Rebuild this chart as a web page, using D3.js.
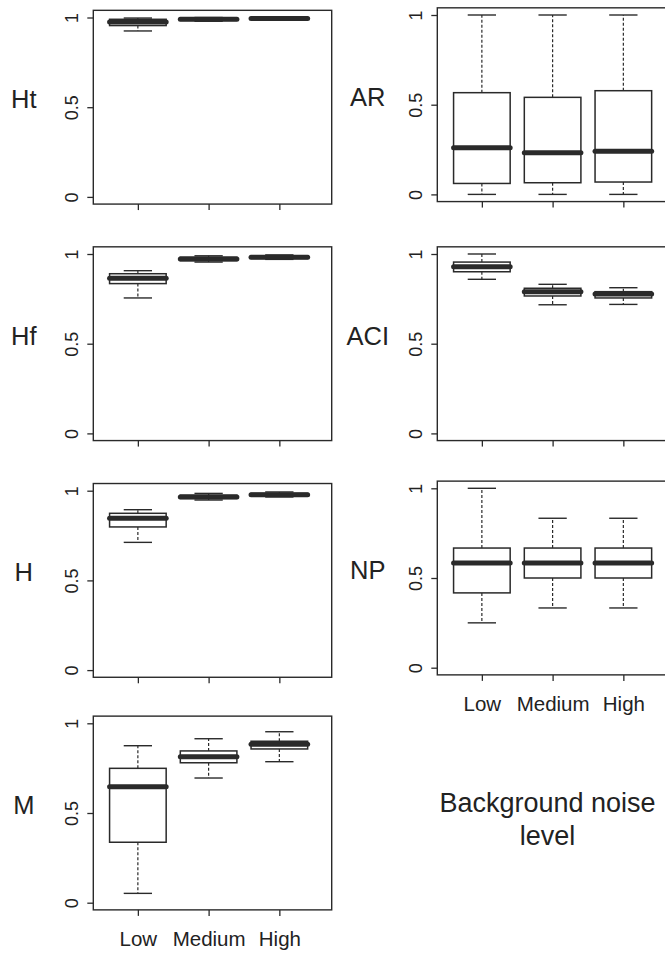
<!DOCTYPE html>
<html>
<head>
<meta charset="utf-8">
<script src="https://cdn.jsdelivr.net/npm/d3@7"></script>
<style>
  body { margin: 0; background: #fff; }
  svg { display: block; }
  text { font-family: "Liberation Sans", Arial, Helvetica, sans-serif; fill: #222; }
</style>
</head>
<body>
<div id="app"></div>
<script>
"use strict";

// noise levels and y ticks
const levels = ["Low", "Medium", "High"];
const yTicks = [0, 0.5, 1];

// each row: [lower whisker, Q1, median, Q3, upper whisker] for Low, Medium, High
const htStats = [
  [0.925, 0.955, 0.975, 0.990, 0.997],
  [0.979, 0.984, 0.990, 0.994, 1.000],
  [0.985, 0.990, 0.995, 0.998, 1.000]
];
const hfStats = [
  [0.755, 0.835, 0.865, 0.890, 0.907],
  [0.955, 0.963, 0.972, 0.982, 0.990],
  [0.970, 0.975, 0.982, 0.988, 0.995]
];
const hStats = [
  [0.712, 0.798, 0.846, 0.874, 0.894],
  [0.948, 0.957, 0.965, 0.975, 0.985],
  [0.965, 0.972, 0.978, 0.985, 0.993]
];
const mStats = [
  [0.052, 0.337, 0.647, 0.749, 0.875],
  [0.695, 0.780, 0.814, 0.846, 0.914],
  [0.786, 0.857, 0.883, 0.900, 0.953]
];
const arStats = [
  [0.000, 0.061, 0.260, 0.567, 1.000],
  [0.000, 0.065, 0.232, 0.541, 1.000],
  [0.000, 0.069, 0.240, 0.578, 1.000]
];
const aciStats = [
  [0.859, 0.901, 0.929, 0.955, 1.000],
  [0.717, 0.766, 0.790, 0.809, 0.831],
  [0.719, 0.755, 0.777, 0.790, 0.812]
];
const npStats = [
  [0.250, 0.417, 0.583, 0.667, 1.000],
  [0.333, 0.500, 0.583, 0.667, 0.833],
  [0.333, 0.500, 0.583, 0.667, 0.833]
];

const panelNames = ["Ht", "Hf", "H", "M", "AR", "ACI", "NP"];
const panelStats = [htStats, hfStats, hStats, mStats, arStats, aciStats, npStats];

const W = 665, H = 954;
const ink = "#2a2a2a";

// layout: left edge of frame and pixel row of y=1 for each panel
const panelLayout = [
  { left: 93.3, top1: 17.5, xLabels: false },
  { left: 93.3, top1: 254, xLabels: false },
  { left: 93.3, top1: 490.7, xLabels: false },
  { left: 93.3, top1: 723.3, xLabels: true },
  { left: 437.3, top1: 15, xLabels: false },
  { left: 437.3, top1: 254, xLabels: false },
  { left: 437.3, top1: 488.3, xLabels: true }
];
const span = 179.4;
const frameW = 238.4;

const svg = d3.select("#app").append("svg")
  .attr("width", W)
  .attr("height", H);

function drawPanel(name, stats, lay) {
  const g = svg.append("g");

  const y = d3.scaleLinear()
    .domain([0, 1])
    .range([lay.top1 + span, lay.top1]);
  const yTop = y(1.04), yBot = y(-0.04);

  const x = d3.scaleLinear()
    .domain([0.37, 3.74])
    .range([lay.left, lay.left + frameW]);
  const unit = x(1) - x(0);

  // frame
  g.append("rect")
    .attr("x", lay.left)
    .attr("y", yTop)
    .attr("width", frameW)
    .attr("height", yBot - yTop)
    .attr("fill", "none")
    .attr("stroke", ink)
    .attr("stroke-width", 1.4);

  // y axis
  const ya = g.append("g")
    .attr("transform", "translate(" + lay.left + ",0)")
    .call(d3.axisLeft(y).tickValues(yTicks).tickSize(6)
      .tickFormat(d => d === 0.5 ? "0.5" : String(d)));
  ya.select(".domain").remove();
  ya.selectAll("line").attr("stroke", ink).attr("stroke-width", 1.3);
  ya.selectAll("text")
    .attr("x", null)
    .attr("dy", null)
    .attr("text-anchor", "middle")
    .attr("transform", "translate(-15,0) rotate(-90)")
    .style("font-size", "18px")
    .attr("fill", "#222");

  // x axis
  const xa = g.append("g")
    .attr("transform", "translate(0," + yBot + ")")
    .call(d3.axisBottom(x).tickValues([1, 2, 3]).tickSize(6)
      .tickFormat(d => lay.xLabels ? levels[d - 1] : ""));
  xa.select(".domain").remove();
  xa.selectAll("line").attr("stroke", ink).attr("stroke-width", 1.3);
  xa.selectAll("text")
    .attr("y", 36)
    .attr("dy", null)
    .style("font-size", "20.5px")
    .attr("fill", "#222");

  // panel name
  g.append("text")
    .attr("x", lay.left - 69.5)
    .attr("y", y(0.5) + 1)
    .attr("text-anchor", "middle")
    .style("font-size", "25.5px")
    .text(name);

  const boxes = g.selectAll("g.box")
    .data(stats)
    .join("g")
    .attr("class", "box");

  const cx = (d, i) => x(i + 1);

  // whiskers
  boxes.append("line")
    .attr("x1", cx).attr("x2", cx)
    .attr("y1", d => y(d[3])).attr("y2", d => y(d[4]))
    .attr("stroke", ink).attr("stroke-width", 1.2)
    .attr("stroke-dasharray", "3,2");
  boxes.append("line")
    .attr("x1", cx).attr("x2", cx)
    .attr("y1", d => y(d[1])).attr("y2", d => y(d[0]))
    .attr("stroke", ink).attr("stroke-width", 1.2)
    .attr("stroke-dasharray", "3,2");

  // whisker caps
  [0, 4].forEach(k => {
    boxes.append("line")
      .attr("x1", (d, i) => cx(d, i) - 0.2 * unit)
      .attr("x2", (d, i) => cx(d, i) + 0.2 * unit)
      .attr("y1", d => y(d[k])).attr("y2", d => y(d[k]))
      .attr("stroke", ink).attr("stroke-width", 1.4);
  });

  // box
  boxes.append("rect")
    .attr("x", (d, i) => cx(d, i) - 0.4 * unit)
    .attr("width", 0.8 * unit)
    .attr("y", d => y(d[3]))
    .attr("height", d => y(d[1]) - y(d[3]))
    .attr("fill", "#fff")
    .attr("stroke", ink)
    .attr("stroke-width", 1.5);

  // median
  boxes.append("line")
    .attr("x1", (d, i) => cx(d, i) - 0.4 * unit)
    .attr("x2", (d, i) => cx(d, i) + 0.4 * unit)
    .attr("y1", d => y(d[2])).attr("y2", d => y(d[2]))
    .attr("stroke", ink)
    .attr("stroke-width", 5)
    .attr("stroke-linecap", "round");
}

panelNames.forEach((name, i) => drawPanel(name, panelStats[i], panelLayout[i]));

// shared x title
const title = svg.append("text")
  .attr("text-anchor", "middle")
  .style("font-size", "27px");
title.append("tspan").attr("x", 547.5).attr("y", 812.3).text("Background noise");
title.append("tspan").attr("x", 547.5).attr("y", 845).text("level");
</script>
</body>
</html>
